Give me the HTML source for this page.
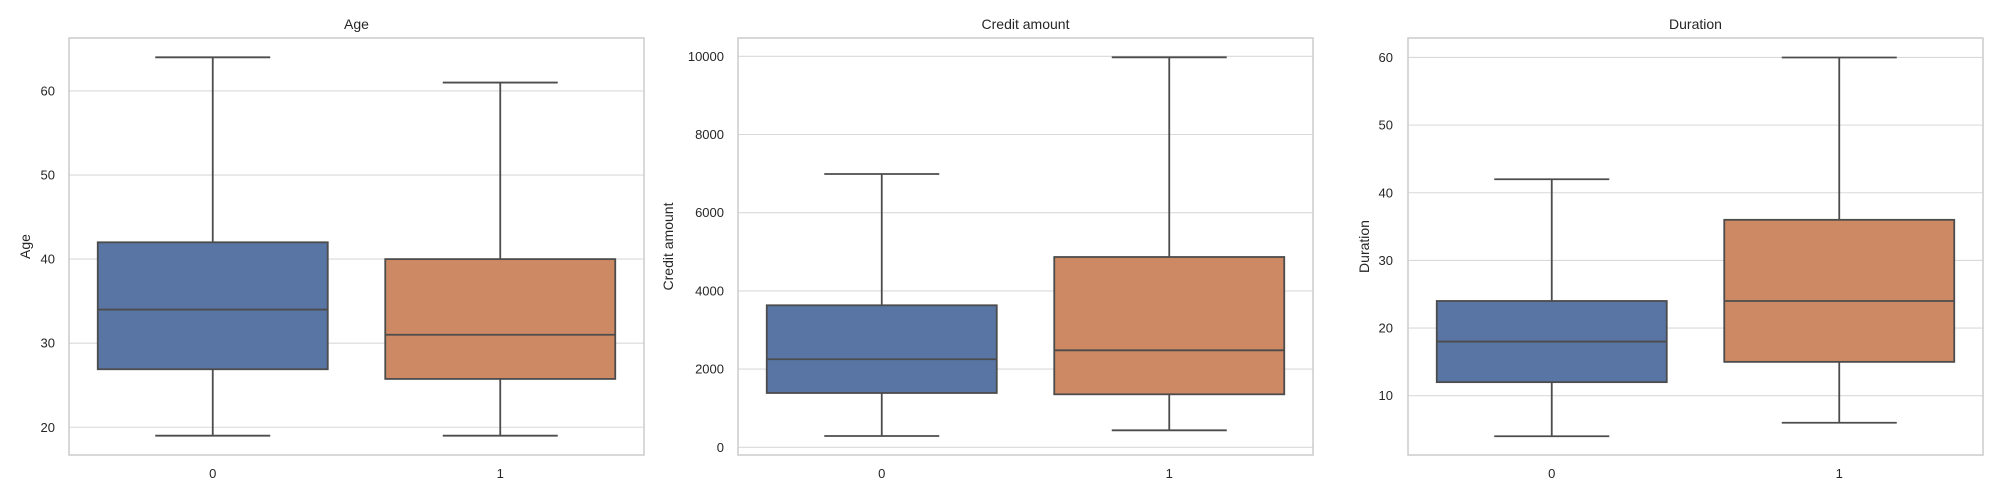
<!DOCTYPE html>
<html><head><meta charset="utf-8"><style>
html,body{margin:0;padding:0;background:#fff;}
svg{display:block;font-family:"Liberation Sans",Arial,sans-serif;}
</style></head><body>
<svg id="chart" width="2000" height="500" viewBox="0 0 2000 500" xmlns="http://www.w3.org/2000/svg"></svg>
<script>
const panelTitles = ["Age", "Credit amount", "Duration"];
const categories = ["0", "1"];
const ageMin = [19, 19];
const ageQ1 = [26.9, 25.75];
const ageMedian = [34, 31];
const ageQ3 = [42, 40];
const ageMax = [64, 61];
const creditMin = [289, 435];
const creditQ1 = [1389, 1355];
const creditMedian = [2251, 2481];
const creditQ3 = [3632, 4867];
const creditMax = [6990, 9974];
const durationMin = [4, 6];
const durationQ1 = [12, 15];
const durationMedian = [18, 24];
const durationQ3 = [24, 36];
const durationMax = [42, 60];
const ageTicks = [20, 30, 40, 50, 60];
const creditTicks = [0, 2000, 4000, 6000, 8000, 10000];
const durationTicks = [10, 20, 30, 40, 50, 60];
const ageDomain = [16.7, 66.3];
const creditDomain = [-197, 10468];
const durationDomain = [1.23, 62.88];

const NS = "http://www.w3.org/2000/svg";
const svgEl = document.getElementById("chart");
const boxColors = ["#5875a4", "#cc8963"];
function mk(tag, attrs, parent) {
  const e = document.createElementNS(NS, tag);
  for (const k in attrs) e.setAttribute(k, attrs[k]);
  parent.appendChild(e);
  return e;
}
const panels = [
  {left: 69, tickRight: 55, labelX: 25, slug: "age", mins: ageMin, q1: ageQ1, med: ageMedian, q3: ageQ3, maxs: ageMax, ticks: ageTicks, dom: ageDomain},
  {left: 738, tickRight: 724, labelX: 668, slug: "credit-amount", mins: creditMin, q1: creditQ1, med: creditMedian, q3: creditQ3, maxs: creditMax, ticks: creditTicks, dom: creditDomain},
  {left: 1408, tickRight: 1393, labelX: 1364, slug: "duration", mins: durationMin, q1: durationQ1, med: durationMedian, q3: durationQ3, maxs: durationMax, ticks: durationTicks, dom: durationDomain}
];
const plotTop = 38, plotBottom = 455, plotW = 575;
panels.forEach((p, pi) => {
  const g = mk("g", {}, svgEl);
  
  
  const y = v => plotBottom - (v - p.dom[0]) / (p.dom[1] - p.dom[0]) * (plotBottom - plotTop);
  const x = i => p.left + plotW * (i + 0.5) / categories.length;
  p.ticks.forEach(t => {
    const gl = mk("line", {x1: p.left, x2: p.left + plotW, y1: y(t), y2: y(t), stroke: "#d9d9d9", "stroke-width": 1.1}, g);
    
    
    const tl = mk("text", {x: p.tickRight, y: y(t) + 4.5, "text-anchor": "end", "font-size": 13, fill: "#262626"}, g);
    tl.textContent = t;
    
    
  });
  categories.forEach((c, i) => {
    const cx = x(i), bw = plotW / categories.length * 0.8, cw = bw / 2;
    const bg = mk("g", {stroke: "#4c4c4c", "stroke-width": 1.8}, g);
    
    
    mk("line", {x1: cx, x2: cx, y1: y(p.maxs[i]), y2: y(p.q3[i])}, bg);
    mk("line", {x1: cx, x2: cx, y1: y(p.q1[i]), y2: y(p.mins[i])}, bg);
    mk("line", {x1: cx - cw / 2, x2: cx + cw / 2, y1: y(p.maxs[i]), y2: y(p.maxs[i])}, bg);
    mk("line", {x1: cx - cw / 2, x2: cx + cw / 2, y1: y(p.mins[i]), y2: y(p.mins[i])}, bg);
    mk("rect", {x: cx - bw / 2, y: y(p.q3[i]), width: bw, height: y(p.q1[i]) - y(p.q3[i]), fill: boxColors[i]}, bg);
    mk("line", {x1: cx - bw / 2, x2: cx + bw / 2, y1: y(p.med[i]), y2: y(p.med[i])}, bg);
    const xl = mk("text", {x: cx, y: 478, "text-anchor": "middle", "font-size": 13, fill: "#262626"}, g);
    xl.textContent = c;
    
    
  });
  const frame = mk("rect", {x: p.left, y: plotTop, width: plotW, height: plotBottom - plotTop, fill: "none", stroke: "#cccccc", "stroke-width": 1.5}, g);
  
  
  const tt = mk("text", {x: p.left + plotW / 2, y: 29, "text-anchor": "middle", "font-size": 14, fill: "#262626"}, g);
  tt.textContent = panelTitles[pi];
  
  
  const yl = mk("text", {x: 0, y: 0, "text-anchor": "middle", "font-size": 14, fill: "#262626", transform: "translate(" + (p.labelX + 5) + "," + ((plotTop + plotBottom) / 2) + ") rotate(-90)"}, g);
  yl.textContent = panelTitles[pi];
  
  
});
</script>
</body></html>
